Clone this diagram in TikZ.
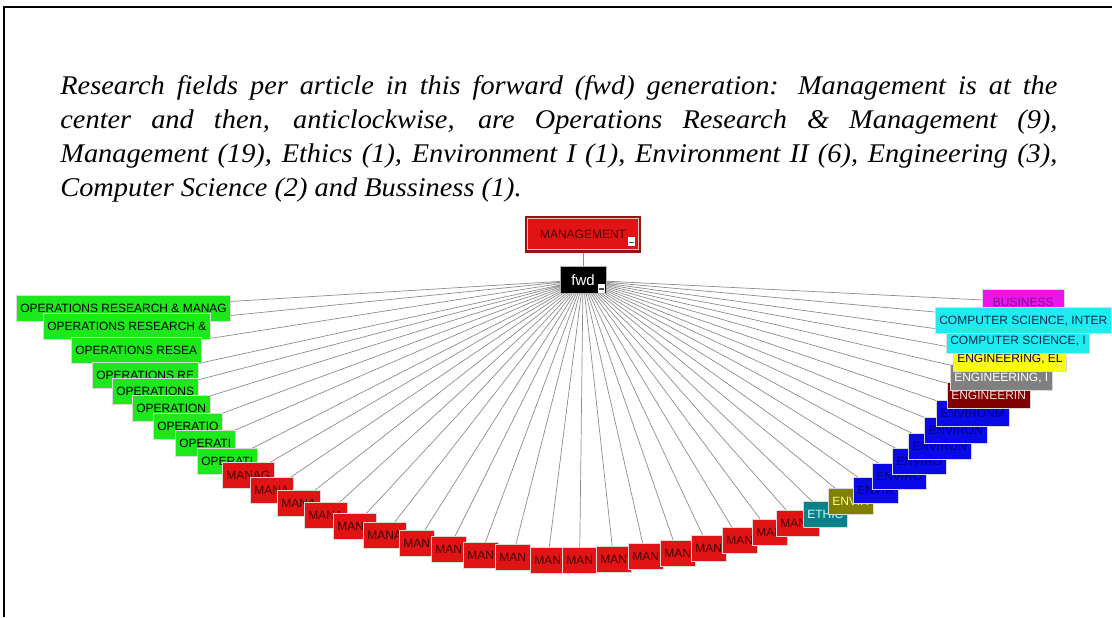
\documentclass[tikz,border=0pt]{standalone}
\usepackage{fontspec}
\setmainfont{Liberation Serif}
\newfontfamily\bildschrift{Liberation Serif}[FakeStretch=1.05]
\newfontfamily\feldschrift{Liberation Sans}
\usetikzlibrary{backgrounds}

\definecolor{orgruen}{RGB}{28,232,28}
\definecolor{marot}{RGB}{224,20,20}
\definecolor{matext}{RGB}{70,0,0}
\definecolor{mgmtrand}{RGB}{150,20,20}
\definecolor{rosa}{RGB}{250,190,190}
\definecolor{ethtuerkis}{RGB}{10,128,135}
\definecolor{ethtext}{RGB}{200,255,255}
\definecolor{envoliv}{RGB}{128,128,0}
\definecolor{envtext}{RGB}{255,255,150}
\definecolor{envblau}{RGB}{10,10,232}
\definecolor{blautext}{RGB}{0,0,110}
\definecolor{engbraun}{RGB}{128,0,0}
\definecolor{engtext}{RGB}{255,215,215}
\definecolor{enggrau}{RGB}{128,128,128}
\definecolor{enggelb}{RGB}{250,250,20}
\definecolor{cstuerkis}{RGB}{30,236,240}
\definecolor{cstext}{RGB}{10,40,80}
\definecolor{buslila}{RGB}{235,20,235}
\definecolor{bustext}{RGB}{120,20,140}

\tikzset{
    feld/.style 2 args={rectangle, anchor=west, fill=#1, text=#2, draw=white!85!black,
        line width=0.3pt, inner xsep=2pt, inner ysep=0pt, minimum height=13pt,
        text depth=0pt, font=\feldschrift\fontsize{6}{7}\selectfont},
    kante/.style={draw=gray!90, line width=0.35pt},
    knopf/.style={rectangle, fill=white, inner sep=0pt, minimum width=3.5pt, minimum height=4.5pt,
        path picture={\draw[black!70, line width=0.8pt]
            ([xshift=0.6pt, yshift=-0.4pt]path picture bounding box.west) --
            ([xshift=-0.6pt, yshift=-0.4pt]path picture bounding box.east);}}
}

\begin{document}
\begin{tikzpicture}[x=0.5pt, y=-0.5pt]
    \useasboundingbox (0,0) rectangle (1112,617);
    \draw[line width=1.2pt] (4,617) -- (4,7) -- (1112,7);

    \node[anchor=north west, inner sep=0pt, text width=498.5pt, align=justify,
          font=\bildschrift\itshape\fontsize{13.5}{17}\selectfont,
          execute at begin node={\tolerance=10000 \hbadness=10000 }] (bildtext) at (60,75)
        {Research fields per article in this forward (fwd) generation: Management is at the\linebreak
         center and then, anticlockwise, are Operations Research \& Management (9),\linebreak
         Management (19), Ethics (1), Environment I (1), Environment II (6), Engineering (3),\linebreak
         Computer Science (2) and Bussiness (1).};

    \path node[fill=marot, draw=mgmtrand, line width=1.2pt, minimum width=57pt, minimum height=17.3pt,
               text=matext, font=\feldschrift\fontsize{6}{7}\selectfont] (mgmt) at (583,234) {MANAGEMENT}
        node[fill=black, draw=white!70!black, line width=0.3pt, minimum width=23pt, minimum height=13.5pt,
               text=white, font=\feldschrift\fontsize{7.5}{8}\selectfont] (fwd) at (583,280) {fwd};
    \draw[rosa, line width=0.4pt] ([shift={(1.4pt,-1.4pt)}]mgmt.north west) rectangle ([shift={(-1.4pt,1.4pt)}]mgmt.south east);
    \node[knopf, anchor=south east] (mgmtknopf) at ([shift={(-3pt,3pt)}]mgmt.south east) {};
    \node[knopf, anchor=south east] (fwdknopf) at ([shift={(-0.5pt,0.3pt)}]fwd.south east) {};

    \path node[feld={orgruen}{black}] (or1) at (16,308) {OPERATIONS RESEARCH \& MANAG}
        node[feld={orgruen}{black}] (or2) at (43,326) {OPERATIONS RESEARCH \&}
        node[feld={orgruen}{black}] (or3) at (71,350) {OPERATIONS RESEA}
        node[feld={orgruen}{black}] (or4) at (92,375) {OPERATIONS RE}
        node[feld={orgruen}{black}] (or5) at (112,391) {OPERATIONS}
        node[feld={orgruen}{black}] (or6) at (132,408) {OPERATION}
        node[feld={orgruen}{black}] (or7) at (153,426) {OPERATIO}
        node[feld={orgruen}{black}] (or8) at (175,443) {OPERATI}
        node[feld={orgruen}{black}] (or9) at (197,461) {OPERATI};

    \path node[feld={marot}{matext}] (ma1) at (222,475) {MANAG}
        node[feld={marot}{matext}] (ma2) at (250,490) {MANA}
        node[feld={marot}{matext}] (ma3) at (277,503) {MANA}
        node[feld={marot}{matext}] (ma4) at (304,515) {MANA}
        node[feld={marot}{matext}] (ma5) at (333,526) {MANA}
        node[feld={marot}{matext}] (ma6) at (363,535) {MANA}
        node[feld={marot}{matext}] (ma7) at (399,543) {MAN}
        node[feld={marot}{matext}] (ma8) at (431,549) {MAN}
        node[feld={marot}{matext}] (ma9) at (463,555) {MAN}
        node[feld={marot}{matext}] (ma10) at (495,557) {MAN}
        node[feld={marot}{matext}] (ma11) at (530,560) {MAN}
        node[feld={marot}{matext}] (ma12) at (562,560) {MAN}
        node[feld={marot}{matext}] (ma13) at (596,559) {MAN}
        node[feld={marot}{matext}] (ma14) at (628,556) {MAN}
        node[feld={marot}{matext}] (ma15) at (660,553) {MAN}
        node[feld={marot}{matext}] (ma16) at (691,548) {MAN}
        node[feld={marot}{matext}] (ma17) at (722,540) {MAN}
        node[feld={marot}{matext}] (ma18) at (752,532) {MAN}
        node[feld={marot}{matext}] (ma19) at (776,523) {MANA};

    \path node[feld={ethtuerkis}{ethtext}] (eth1) at (803,514) {ETHIC}
        node[feld={envoliv}{envtext}] (enva1) at (828,501) {ENVIR}
        node[feld={envblau}{blautext}] (envb1) at (853,490) {ENVIR}
        node[feld={envblau}{blautext}] (envb2) at (872,476) {ENVIRO}
        node[feld={envblau}{blautext}] (envb3) at (892,461) {ENVIRO}
        node[feld={envblau}{blautext}] (envb4) at (908,446) {ENVIRON}
        node[feld={envblau}{blautext}] (envb5) at (924,430) {ENVIRON}
        node[feld={envblau}{blautext}] (envb6) at (936,413) {ENVIRONM}
        node[feld={engbraun}{engtext}] (eng1) at (947,395) {ENGINEERIN}
        node[feld={enggrau}{white}] (eng2) at (950,377) {ENGINEERING, I}
        node[feld={enggelb}{blautext}] (eng3) at (953,358) {ENGINEERING, EL}
        node[feld={cstuerkis}{cstext}] (cs1) at (946,340) {COMPUTER SCIENCE, I}
        node[feld={buslila}{bustext}, minimum width=41pt] (bus1) at (982,302) {BUSINESS}
        node[feld={cstuerkis}{cstext}] (cs2) at (935,320) {COMPUTER SCIENCE, INTER};

    \begin{pgfonlayer}{background}
        \draw[kante] (mgmt) -- (fwd);
        \draw[kante] (fwd.center) -- (or1.center) (fwd.center) -- (or2.center) (fwd.center) -- (or3.center)
            (fwd.center) -- (or4.center) (fwd.center) -- (or5.center) (fwd.center) -- (or6.center)
            (fwd.center) -- (or7.center) (fwd.center) -- (or8.center) (fwd.center) -- (or9.center);
        \draw[kante] (fwd.center) -- (ma1.center) (fwd.center) -- (ma2.center) (fwd.center) -- (ma3.center)
            (fwd.center) -- (ma4.center) (fwd.center) -- (ma5.center) (fwd.center) -- (ma6.center)
            (fwd.center) -- (ma7.center) (fwd.center) -- (ma8.center) (fwd.center) -- (ma9.center)
            (fwd.center) -- (ma10.center) (fwd.center) -- (ma11.center) (fwd.center) -- (ma12.center)
            (fwd.center) -- (ma13.center) (fwd.center) -- (ma14.center) (fwd.center) -- (ma15.center)
            (fwd.center) -- (ma16.center) (fwd.center) -- (ma17.center) (fwd.center) -- (ma18.center)
            (fwd.center) -- (ma19.center);
        \draw[kante] (fwd.center) -- (eth1.center) (fwd.center) -- (enva1.center)
            (fwd.center) -- (envb1.center) (fwd.center) -- (envb2.center) (fwd.center) -- (envb3.center)
            (fwd.center) -- (envb4.center) (fwd.center) -- (envb5.center) (fwd.center) -- (envb6.center)
            (fwd.center) -- (eng1.center) (fwd.center) -- (eng2.center) (fwd.center) -- (eng3.center)
            (fwd.center) -- (cs1.center) (fwd.center) -- (cs2.center) (fwd.center) -- (bus1.center);
    \end{pgfonlayer}
\end{tikzpicture}
\end{document}
